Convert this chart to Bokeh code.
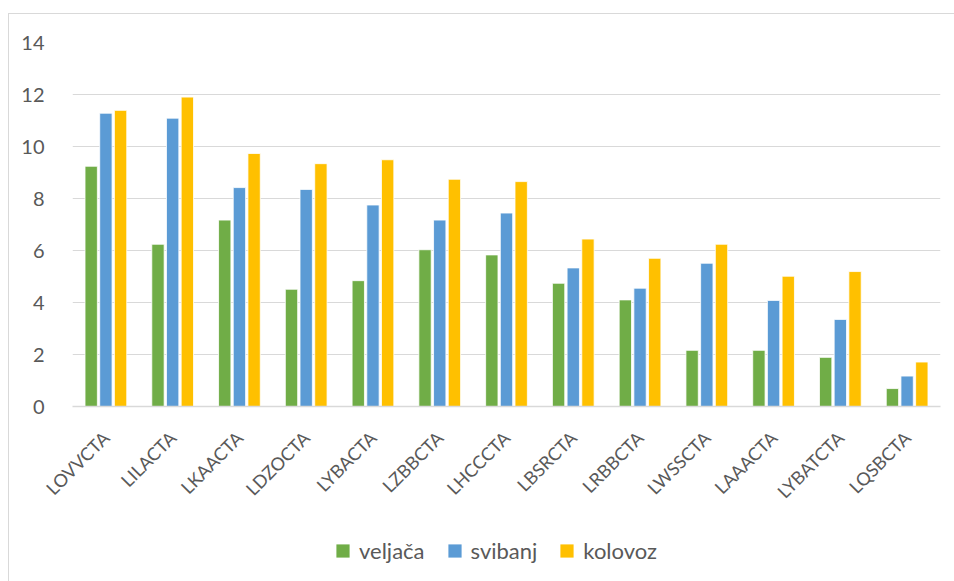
from bokeh.plotting import figure
from bokeh.models import ColumnDataSource, FactorRange, FixedTicker, Legend, LegendItem
from bokeh.layouts import column
from bokeh.transform import dodge
from bokeh.embed import file_html
from bokeh.resources import INLINE
import math

categories = ["LOVVCTA", "LILACTA", "LKAACTA", "LDZOCTA", "LYBACTA", "LZBBCTA", "LHCCCTA",
              "LBSRCTA", "LRBBCTA", "LWSSCTA", "LAAACTA", "LYBATCTA", "LQSBCTA"]
veljaca = [9.24, 6.24, 7.17, 4.51, 4.84, 6.03, 5.83, 4.74, 4.10, 2.16, 2.16, 1.89, 0.69]
svibanj = [11.28, 11.09, 8.42, 8.35, 7.75, 7.17, 7.44, 5.33, 4.55, 5.51, 4.08, 3.35, 1.17]
kolovoz = [11.39, 11.90, 9.73, 9.34, 9.49, 8.74, 8.65, 6.44, 5.70, 6.24, 5.01, 5.19, 1.71]
series_names = ["veljača", "svibanj", "kolovoz"]
y_ticks = [0, 2, 4, 6, 8, 10, 12, 14]

colors = ["#70AD47", "#5B9BD5", "#FFC000"]
FONT = "Lato"
TXT = "#595959"
GRID = "#D9D9D9"

source = ColumnDataSource(dict(cat=categories, veljaca=veljaca, svibanj=svibanj, kolovoz=kolovoz))
fields = ["veljaca", "svibanj", "kolovoz"]
offsets = [-0.22, 0.0, 0.22]

# main chart
p = figure(x_range=FactorRange(*categories), y_range=(0, 14),
           width=945, height=512, output_backend="svg", toolbar_location=None,
           min_border_left=63, min_border_right=14, min_border_top=28, min_border_bottom=120)
p.outline_line_color = None

for f, off, c in zip(fields, offsets, colors):
    p.vbar(x=dodge("cat", off, range=p.x_range), top=f, width=0.185, source=source,
           fill_color=c, line_color="white", line_width=0.8)

p.yaxis.ticker = FixedTicker(ticks=y_ticks)
p.yaxis.axis_line_color = None
p.yaxis.major_tick_line_color = None
p.yaxis.minor_tick_line_color = None
p.yaxis.major_label_standoff = 22
p.yaxis.major_label_text_font = FONT
p.yaxis.major_label_text_font_size = "20px"
p.yaxis.major_label_text_color = TXT

p.xaxis.axis_line_color = GRID
p.xaxis.axis_line_width = 1.5
p.xaxis.major_tick_line_color = None
p.xaxis.minor_tick_line_color = None
p.xaxis.major_label_orientation = math.pi / 4
p.xaxis.major_label_standoff = 22
p.xaxis.major_label_text_font = FONT
p.xaxis.major_label_text_font_size = "18px"
p.xaxis.major_label_text_color = TXT

p.xgrid.grid_line_color = None
p.ygrid.grid_line_color = GRID
p.ygrid.grid_line_width = 1.2

# legend strip (square markers kept out of view, only their legend entries are shown)
p2 = figure(x_range=FactorRange(*categories), y_range=(100, 101),
            width=945, height=55, output_backend="svg", toolbar_location=None,
            min_border=0, x_axis_location=None, y_axis_location=None)
p2.outline_line_color = None
p2.xgrid.grid_line_color = None
p2.ygrid.grid_line_color = None
leg_renderers = []
for f, c in zip(fields, colors):
    r = p2.scatter(x="cat", y=f, marker="square", size=13, source=source,
                   fill_color=c, line_color=None)
    leg_renderers.append(r)

legend = Legend(items=[LegendItem(label=n, renderers=[r]) for n, r in zip(series_names, leg_renderers)],
                orientation="horizontal", location=(254, 14), margin=0, padding=0,
                glyph_width=33, glyph_height=33, label_standoff=-5, spacing=13,
                label_text_font=FONT, label_text_font_size="22px", label_text_color=TXT,
                border_line_color=None, background_fill_alpha=0)
p2.add_layout(legend, "center")

layout = column(p, p2, spacing=0,
                styles={"margin-left": "8px", "margin-top": "13px",
                        "border-top": "1px solid #D9D9D9", "border-left": "1px solid #D9D9D9"})

open("out.html", "w").write(file_html(layout, INLINE))
